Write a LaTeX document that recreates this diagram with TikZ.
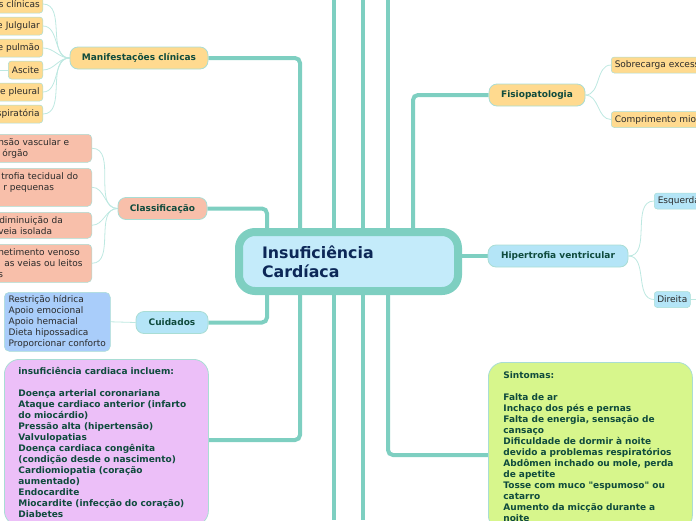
\documentclass[tikz,border=0pt]{standalone}
\usepackage{fontspec}
\setmainfont{DejaVu Sans}
\usetikzlibrary{positioning, calc, backgrounds}
\definecolor{linkteal}{HTML}{7ECFC1}
\definecolor{twigteal}{HTML}{BDE8E1}
\definecolor{rim}{HTML}{A9DDD4}
\definecolor{hubfill}{HTML}{C4EBFA}
\definecolor{hubtext}{HTML}{0C2757}
\definecolor{topictext}{HTML}{0F4B3D}
\definecolor{leaftext}{HTML}{2A2A2A}
\definecolor{apricot}{HTML}{FFDA8F}
\definecolor{salmon}{HTML}{F8BFAA}
\definecolor{skyblue}{HTML}{B4E5F7}
\definecolor{cornflower}{HTML}{A9CDFA}
\definecolor{lilac}{HTML}{ECBFF8}
\definecolor{lime}{HTML}{D7F68C}

\begin{document}
\begin{tikzpicture}[x=1pt, y=-1pt,
  hub/.style={draw=linkteal, line width=8pt, fill=hubfill, rounded corners=16pt,
    text=hubtext, font=\bfseries\fontsize{15.8}{19}\selectfont,
    text width=173pt, align=left, inner xsep=23pt, minimum height=59pt},
  topic/.style={draw=rim, line width=0.8pt, rounded corners=8pt, text=topictext,
    font=\bfseries\fontsize{9}{11}\selectfont, minimum height=22pt, inner xsep=0pt},
  leaf/.style={draw=rim, line width=0.5pt, rounded corners=3pt, text=leaftext,
    font=\fontsize{9}{11}\selectfont, inner xsep=3.5pt, inner ysep=2pt},
  mleaf/.style={leaf, fill=apricot, anchor=east, text width=60pt, align=right, minimum height=18pt, inner xsep=3pt},
  cleaf/.style={leaf, fill=salmon, anchor=north east, text width=90pt, align=left, rounded corners=4pt},
  notebox/.style={draw=rim, line width=0.8pt, rounded corners=15pt, text=topictext,
    font=\bfseries\fontsize{9}{11}\selectfont, align=left, anchor=north west},
  branch/.style={linkteal, line width=4pt, rounded corners=5pt},
  twig/.style={twigteal, line width=0.8pt},
]

% Page
\useasboundingbox (0,0) rectangle (696,520);

% Free ends at the page edges
\coordinate (topA) at (334,0);
\coordinate (botA) at (334,520);
\coordinate (topB) at (363,0);
\coordinate (botB) at (363,520);
\coordinate (topC) at (388,0);
\coordinate (leftEdge) at (0,70);
\coordinate (rightEdge) at (696,299.5);

% Central topic
\node[hub] (hub) at (348.5,261.5) {Insuficiência\\Cardíaca};

% Main topics
\node[topic, fill=apricot, minimum width=138pt] (manif) at (139,58) {Manifestações clínicas};
\node[topic, fill=salmon, minimum width=89pt] (classif) at (162.5,208.5) {Classificação};
\node[topic, fill=skyblue, minimum width=72pt] (cuid) at (172,322.5) {Cuidados};
\node[topic, fill=apricot, minimum width=96pt] (fisio) at (537,95) {Fisiopatologia};
\node[topic, fill=skyblue, minimum width=140pt] (hiper) at (558,256) {Hipertrofia ventricular};

% Manifestações clínicas
\node[mleaf] (sinais) at (43,4) {s clínicas};
\node[mleaf] (jugular) at (43,26) {e Julgular};
\node[mleaf] (pulmao) at (43,48) {e pulmão};
\node[leaf, fill=apricot, anchor=east, minimum height=18pt] (ascite) at (43,70) {Ascite};
\node[mleaf] (pleural) at (43,92) {e pleural};
\node[mleaf] (resp) at (43,114) {spiratória};

% Classificação
\node[cleaf, minimum height=28pt] (vascular) at (92,134) {nsão vascular e\\\hspace*{4pt}órgão};
\node[cleaf, minimum height=38pt] (tecidual) at (92,168) {\hspace*{3pt}trofia tecidual do\\\hspace*{5pt}r pequenas\\\mbox{}};
\node[cleaf, minimum height=26pt] (isolada) at (92,212) {\hspace*{1pt}diminuição da\\veia isolada};
\node[cleaf, minimum height=38pt] (venoso) at (92,244) {netimento venoso\\\hspace*{6pt}as veias ou leitos\\s};

% Cuidados
\node[leaf, fill=cornflower, anchor=north west, align=left, rounded corners=5pt,
  minimum width=106pt, inner ysep=3pt] (care) at (4,292)
  {Restrição hídrica\\Apoio emocional\\Apoio hemacial\\Dieta hipossadica\\Proporcionar conforto};

% Causas
\node[notebox, fill=lilac, text width=176pt, inner xsep=14pt, inner ysep=8pt] (causes) at (4,359)
  {insuficiência cardiaca incluem:\\[11pt]
   Doença arterial coronariana\\
   Ataque cardiaco anterior (infarto\\do miocárdio)\\
   Pressão alta (hipertensão)\\
   Valvulopatias\\
   Doença cardiaca congênita\\(condição desde o nascimento)\\
   Cardiomiopatia (coração\\aumentado)\\
   Endocardite\\
   Miocardite (infecção do coração)\\
   Diabetes};

% Sintomas
\node[notebox, fill=lime, text width=174pt, inner xsep=15pt, inner ysep=9pt] (signs) at (488,362)
  {Sintomas:\\[11pt]
   Falta de ar\\
   Inchaço dos pés e pernas\\
   Falta de energia, sensação de\\cansaço\\
   Dificuldade de dormir à noite\\devido a problemas respiratórios\\
   Abdômen inchado ou mole, perda\\de apetite\\
   Tosse com muco \textquotedbl espumoso\textquotedbl{} ou\\catarro\\
   Aumento da micção durante a\\noite};

% Fisiopatologia
\node[leaf, fill=apricot, anchor=west, text width=150pt, align=left, minimum height=16pt] (sobrecarga) at (611,65) {Sobrecarga excessiva};
\node[leaf, fill=apricot, anchor=west, text width=150pt, align=left, minimum height=16pt] (comprimento) at (611,119.5) {Comprimento miocárdico};

% Hipertrofia ventricular
\node[leaf, fill=skyblue, anchor=west, text width=60pt, align=left, minimum height=16pt] (esquerda) at (654,201) {Esquerda};
\node[leaf, fill=skyblue, anchor=west, minimum height=16pt, inner xsep=3pt] (direita) at (654,299.5) {Direita};

% Connectors
\begin{pgfonlayer}{background}
  \draw[branch] (topA) -- (botA);
  \draw[branch] (topB) -- (botB);
  \draw[branch] ([xshift=39.5pt]hub.center) -- (topC);
  \draw[branch] (manif.east) -| ([xshift=-48.5pt]hub.center);
  \draw[branch] (classif.east) -| ([xshift=-81.5pt]hub.center);
  \draw[branch] (cuid.east) -| ([xshift=-81.5pt]hub.center);
  \draw[branch] ([yshift=-81pt]causes.north east) -| ([xshift=-48.5pt]hub.center);
  \draw[branch] (fisio.west) -| ([xshift=64.5pt]hub.center);
  \draw[branch] (hub.center |- hiper.west) -- (hiper.west);
  \draw[branch] ([yshift=-93pt]signs.north west) -| ([xshift=39.5pt]hub.center);

  \foreach \leafname in {sinais, jugular, pulmao, ascite, pleural, resp}
    \draw[twig] (\leafname.east) to[out=0, in=180] (manif.west);
  \draw[twig] (ascite.west) -- (leftEdge);
  \foreach \leafname in {vascular, tecidual, isolada, venoso}
    \draw[twig] (\leafname.east) to[out=0, in=180] (classif.west);
  \draw[twig] (care.east) -- (cuid.west);
  \draw[twig] (fisio.east) to[out=0, in=180] (sobrecarga.west);
  \draw[twig] (fisio.east) to[out=0, in=180] (comprimento.west);
  \draw[twig] (hiper.east) to[out=0, in=180] (esquerda.west);
  \draw[twig] (hiper.east) to[out=0, in=180] (direita.west);
  \draw[twig] (direita.east) -- (rightEdge);
\end{pgfonlayer}

\end{tikzpicture}
\end{document}
